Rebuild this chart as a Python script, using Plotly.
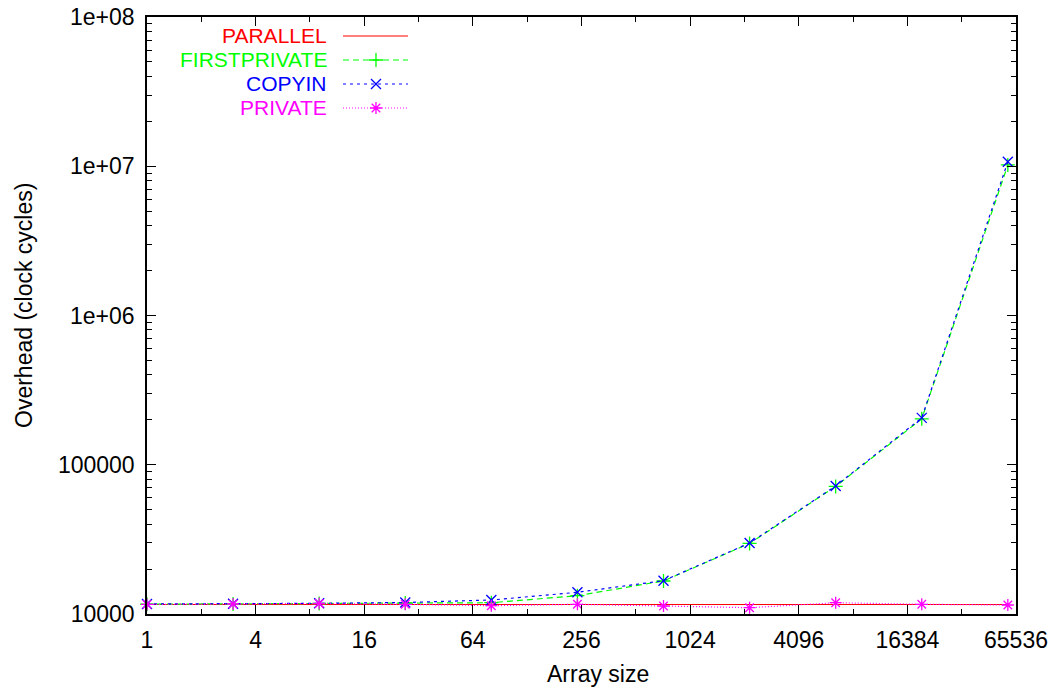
import plotly.graph_objects as go

# ---------------- data ----------------
array_size = [1, 3, 9, 27, 81, 243, 729, 2187, 6561, 19683, 59049]
parallel = [11580, 11580, 11580, 11580, 11580, 11580, 11580, 11580, 11580, 11580, 11580]
firstprivate = [11630, 11670, 11760, 11850, 11900, 13260, 16640, 29700, 71600, 203000, 10200000]
copyin = [11670, 11700, 11790, 11940, 12410, 13980, 16720, 29900, 72100, 206000, 10730000]
private = [11600, 11670, 11760, 11615, 11370, 11615, 11315, 11020, 11900, 11615, 11490]

series_names = ["PARALLEL", "FIRSTPRIVATE", "COPYIN", "PRIVATE"]
x_tick_vals = [1, 4, 16, 64, 256, 1024, 4096, 16384, 65536]
x_tick_text = ["1", "4", "16", "64", "256", "1024", "4096", "16384", "65536"]
x_minor_vals = [2, 8, 32, 128, 512, 2048, 8192, 32768]
y_tick_vals = [1e4, 1e5, 1e6, 1e7, 1e8]
y_tick_text = ["10000", "100000", "1e+06", "1e+07", "1e+08"]
y_minor_vals = [m * 10 ** k for k in range(4, 8) for m in range(2, 10)]
x_title = "Array size"
y_title = "Overhead (clock cycles)"

# ---------------- styles ----------------
colors = ["#ff0000", "#00ff00", "#0000ff", "#ff00ff"]
dashes = ["solid", "6px,4px", "3px,4px", "1px,2px"]
symbols = [None, "cross-thin-open", "x-thin-open", "asterisk-open"]
FONT = "Liberation Sans, Arial, sans-serif"
FS = 23
KEY_FS = 21

fig = go.Figure()
data = [parallel, firstprivate, copyin, private]
for name, ys, c, d, s in zip(series_names, data, colors, dashes, symbols):
    mode = "lines" if s is None else "lines+markers"
    fig.add_trace(go.Scatter(
        x=array_size, y=ys, name=name, mode=mode,
        line=dict(color=c, width=1.2, dash=d),
        marker=dict(symbol=s or "circle", size=10, color=c,
                    line=dict(color=c, width=1.3)),
        showlegend=False, cliponaxis=False,
    ))

# ---------------- gnuplot-style key (text left, sample right) ----------------
key_rows = [0.9682, 0.928, 0.8878, 0.8476]
key_text_x = 0.2083
key_line = [0.2255, 0.3003]
key_mark = 0.2635
for name, c, d, s, yy in zip(series_names, colors, dashes, symbols, key_rows):
    fig.add_trace(go.Scatter(
        x=key_line, y=[yy, yy], mode="lines", xaxis="x2", yaxis="y2",
        line=dict(color=c, width=1.2, dash=d), showlegend=False, hoverinfo="skip"))
    if s is not None:
        fig.add_trace(go.Scatter(
            x=[key_mark], y=[yy], mode="markers", xaxis="x2", yaxis="y2",
            marker=dict(symbol=s, size=10, color=c, line=dict(color=c, width=1.3)),
            showlegend=False, hoverinfo="skip"))
    fig.add_annotation(x=key_text_x, y=yy, xref="x2", yref="y2", text=name,
                       showarrow=False, xanchor="right", yanchor="middle",
                       borderpad=0,
                       font=dict(family=FONT, size=KEY_FS, color=c))

# axis titles
fig.add_annotation(x=0.519, y=-0.1005, xref="paper", yref="paper", text=x_title,
                   showarrow=False, xanchor="center", yanchor="middle",
                   font=dict(family=FONT, size=FS, color="black"))
fig.add_annotation(x=-0.1415, y=0.516, xref="paper", yref="paper", text=y_title,
                   showarrow=False, xanchor="center", yanchor="middle", textangle=-90,
                   font=dict(family=FONT, size=FS, color="black"))

axis_common = dict(
    showline=True, linecolor="black", linewidth=1.5, mirror="ticks",
    ticks="inside", ticklen=9, tickwidth=1, tickcolor="black",
    showgrid=False, zeroline=False, automargin=False,
    tickfont=dict(family=FONT, size=FS, color="black"),
)

fig.update_layout(
    width=1053, height=691,
    margin=dict(l=147, r=37, t=17, b=77),
    paper_bgcolor="white", plot_bgcolor="white",
    font=dict(family=FONT, size=FS, color="black"),
    xaxis=dict(
        type="log", range=[0, 4.81648], tickmode="array",
        tickvals=x_tick_vals, ticktext=x_tick_text, ticklabelstandoff=5,
        minor=dict(tickmode="array", tickvals=x_minor_vals, ticks="inside",
                   ticklen=5, tickcolor="black", tickwidth=1),
        **axis_common,
    ),
    yaxis=dict(
        type="log", range=[4, 8], tickmode="array",
        tickvals=y_tick_vals, ticktext=y_tick_text, ticklabelstandoff=6,
        minor=dict(tickmode="array", tickvals=y_minor_vals, ticks="inside",
                   ticklen=5, tickcolor="black", tickwidth=1),
        **axis_common,
    ),
    xaxis2=dict(overlaying="x", range=[0, 1], visible=False, anchor="y2"),
    yaxis2=dict(overlaying="y", range=[0, 1], visible=False, anchor="x2"),
)

fig.write_html("out.html")
